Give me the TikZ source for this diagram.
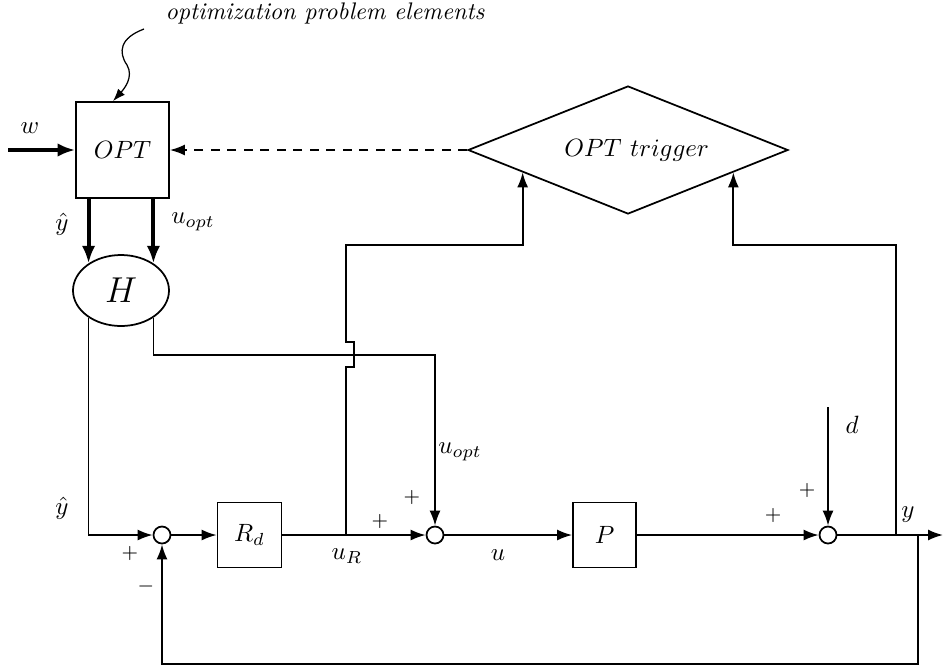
\documentclass[tikz,border=0pt]{standalone}
\usetikzlibrary{shapes,arrows.meta}

\begin{document}
\begin{tikzpicture}[x=0.4pt,y=-0.4pt,line width=0.7pt]
      \tikzstyle{block}=[rectangle,draw,inner sep=0pt]
      \tikzstyle{sum}=[circle,draw,minimum size=6.8pt,inner sep=0pt]
      \tikzstyle{sig}=[-{Latex[length=6pt,width=4.4pt]}]
      \tikzstyle{bus}=[line width=1.6pt,-{Latex[length=7pt,width=5.4pt]}]
      \tikzstyle{sign}=[inner sep=0pt,font=\footnotesize]
      \useasboundingbox (0,0) rectangle (944,667);
      % optimizer and hold
      \node[block,minimum width=37.2pt,minimum height=38.4pt] (opt) at (122.5,150) {$OPT$};
      \node[ellipse,draw,minimum width=38.4pt,minimum height=28.4pt,inner sep=0pt] (H) at (121,290.5) {\Large $H$};
      \node[diamond,draw,aspect=2.5,minimum width=128pt,minimum height=51.2pt,inner sep=0pt] (trig) at (628,150) {\hspace{7pt}$OPT\ trigger$};
      \node[inner sep=0pt] (note) at (325,13) {\fontsize{9.6}{11}\selectfont\itshape optimization problem elements};
      % main loop
      \node[sum] (s1) at (162,535) {};
      \node[block,minimum width=25.6pt,minimum height=26pt] (rd) at (249.5,535) {$R_d$};
      \node[sum] (s2) at (435,535) {};
      \node[block,minimum width=25.2pt,minimum height=26pt] (p) at (604.5,535) {$P$};
      \node[sum] (s3) at (828,535) {};
      \coordinate (w) at (8,150);
      \coordinate (d) at (828,407);
      \coordinate (out) at (943,535);
      \coordinate (uR) at (346,535);
      \coordinate (yb) at (896,535);
      \coordinate (fb) at (918,535);
      \coordinate (snk) at (144,29);
      % connectors
      \draw[-{Latex[length=5pt,width=3.6pt]},line width=0.5pt] (snk) .. controls (120,38) and (118,52) .. (127,65)
        .. controls (134,77) and (124,89) .. (opt.north -| 113,0);
      \draw[bus] (w) -- (opt);
      \draw[sig,dash pattern=on 3.6pt off 3pt] (trig) -- (opt);
      \draw[bus] (opt.south -| H.140) -- (H.140);
      \draw[bus] (opt.south -| H.40) -- (H.40);
      \draw[sig] (H.220) |- (s1);
      \draw[sig] (H.320) |- (s2 |- 0,355) -- (s2);
      \draw[sig] (s1) -- (rd);
      \draw[sig] (rd) -- (s2);
      \draw[sig] (s2) -- (p);
      \draw[sig] (p) -- (s3);
      \draw[sig] (s3) -- (out);
      \draw[sig] (d) -- (s3);
      \draw[sig] (uR) -- (346,367) -- ++(8,0) -- ++(0,-25) -- ++(-8,0) -- (346,245) -| (trig.192);
      \draw[sig] (yb) -- (896,245) -| (trig.-12);
      \draw[sig] (fb) -- (918,664) -| (s1);
      % labels
      \node (lw) at (30,128) {$w$};
      \node (lyh1) at (62,224) {$\hat{y}$};
      \node (luo1) at (193,222) {$u_{opt}$};
      \node (lyh2) at (62,508) {$\hat{y}$};
      \node (luo2) at (460,452) {$u_{opt}$};
      \node (luR) at (347,556) {$u_R$};
      \node (lu) at (498,555) {$u$};
      \node (ld) at (852,425) {$d$};
      \node (ly) at (908,515) {$y$};
      \node[sign] (p1) at (130,553) {$+$};
      \node[sign] (m1) at (146,586) {$-$};
      \node[sign] (p2) at (380,521) {$+$};
      \node[sign] (p3) at (412,497) {$+$};
      \node[sign] (p4) at (773,515) {$+$};
      \node[sign] (p5) at (807,490) {$+$};
\end{tikzpicture}
\end{document}
